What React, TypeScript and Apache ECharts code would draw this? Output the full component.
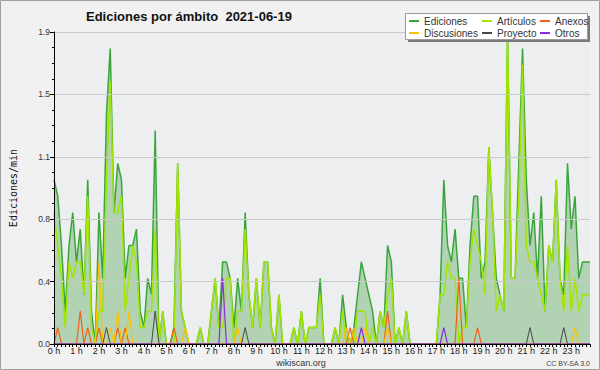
import React, { useEffect, useRef } from 'react';
import * as echarts from 'echarts';

// 144 ten-minute slots, 0 h .. 23 h 50
const hourTicks = ['0 h','1 h','2 h','3 h','4 h','5 h','6 h','7 h','8 h','9 h','10 h','11 h','12 h','13 h','14 h','15 h','16 h','17 h','18 h','19 h','20 h','21 h','22 h','23 h'];

const ediciones = [
  1.0,0.9,0.6,0.2,0.6,0.8,0.5,0.7,0.3,1.0,0.2,0.0,
  0.8,0.4,1.4,1.8,0.8,1.1,1.0,0.4,0.6,0.6,0.7,0.2,
  0.1,0.4,0.3,1.3,0.0,0.2,0.0,0.0,0.1,1.1,0.2,0.1,
  0.0,0.0,0.0,0.1,0.0,0.0,0.2,0.4,0.1,0.5,0.5,0.4,
  0.1,0.4,0.2,0.8,0.3,0.1,0.4,0.1,0.5,0.5,0.1,0.0,
  0.3,0.0,0.0,0.0,0.1,0.0,0.2,0.0,0.1,0.1,0.1,0.4,
  0.0,0.0,0.0,0.1,0.0,0.3,0.1,0.0,0.1,0.3,0.5,0.4,
  0.3,0.2,0.0,0.2,0.1,0.6,0.5,0.0,0.1,0.0,0.2,0.0,
  0.0,0.0,0.0,0.0,0.0,0.0,0.0,0.3,1.0,0.6,0.5,0.7,
  0.4,0.4,0.1,0.6,0.9,0.9,0.4,0.5,1.2,0.8,0.4,0.3,
  0.2,1.9,0.4,0.4,1.1,1.8,1.0,0.6,0.8,0.4,0.9,0.2,
  0.6,0.5,1.0,0.4,0.3,1.1,0.7,0.9,0.4,0.5,0.5,0.5,
];

const articulos = [
  0.8,0.6,0.4,0.1,0.5,0.4,0.5,0.5,0.3,0.9,0.1,0.0,
  0.2,0.2,1.0,1.6,0.8,0.8,0.9,0.2,0.4,0.6,0.5,0.1,
  0.1,0.2,0.2,0.7,0.0,0.2,0.0,0.0,0.0,1.1,0.2,0.1,
  0.0,0.0,0.0,0.1,0.0,0.0,0.2,0.4,0.1,0.1,0.4,0.4,
  0.0,0.2,0.2,0.7,0.3,0.1,0.4,0.1,0.5,0.5,0.1,0.0,
  0.3,0.0,0.0,0.0,0.1,0.0,0.2,0.0,0.1,0.1,0.1,0.3,
  0.0,0.0,0.0,0.1,0.0,0.2,0.0,0.0,0.0,0.2,0.2,0.2,
  0.0,0.1,0.0,0.2,0.1,0.3,0.4,0.0,0.1,0.0,0.2,0.0,
  0.0,0.0,0.0,0.0,0.0,0.0,0.0,0.3,0.3,0.5,0.4,0.4,
  0.0,0.1,0.1,0.5,0.7,0.6,0.5,0.3,1.2,0.8,0.2,0.3,
  0.2,1.9,0.4,0.4,0.9,1.7,0.6,0.5,0.5,0.4,0.3,0.2,
  0.6,0.5,1.0,0.4,0.2,0.6,0.2,0.4,0.2,0.3,0.3,0.3,
];

// sparse series: [slot, value]
const anexos: [number, number][] = [[1,0.1],[7,0.2],[9,0.1],[12,0.1],[17,0.1],[19,0.1],[32,0.1],[79,0.1],[89,0.2],[108,0.4],[113,0.1]];
const discusiones: [number, number][] = [[12,0.5],[15,0.1],[17,0.2],[20,0.2],[35,0.1],[49,0.1],[78,0.1],[80,0.1],[83,0.1],[89,0.1],[139,0.1]];
const proyecto: [number, number][] = [[14,0.1],[27,0.2],[51,0.1],[127,0.1],[136,0.1]];
const otros: [number, number][] = [[45,0.4],[82,0.1],[104,0.1]];

const SLOTS = ediciones.length;

function dense(arr: number[]) {
  return arr.map((v, i) => [i, v]);
}
function fromSparse(list: [number, number][]) {
  const out: number[] = new Array(SLOTS).fill(0);
  list.forEach(([i, v]) => { out[i] = v; });
  return dense(out);
}

const SANS = "'Liberation Sans', Arial, sans-serif";

export default function App() {
  const ref = useRef<HTMLDivElement>(null);
  useEffect(() => {
    if (!ref.current) return;
    const chart = echarts.init(ref.current, undefined, { renderer: 'svg' });
    const lineSeries = (name: string, data: any, color: string, width: number, extra: any = {}) => ({
      name, type: 'line', data, symbol: 'none', showSymbol: false,
      lineStyle: { color, width }, itemStyle: { color }, z: 2, ...extra,
    });
    const legendBase = {
      orient: 'vertical', top: 15, padding: 0, itemGap: 0, itemWidth: 10, itemHeight: 2,
      icon: 'rect', selectedMode: false, z: 8,
      textStyle: { fontFamily: SANS, fontSize: 10, color: '#333', lineHeight: 12 },
    };
    chart.setOption({
      animation: false,
      backgroundColor: '#f1f1f1',
      title: {
        text: 'Ediciones por ámbito  2021-06-19',
        left: 86, top: 10, padding: 0,
        textStyle: { fontFamily: SANS, fontSize: 13, fontWeight: 'bold', color: '#111' },
      },
      legend: [
        { ...legendBase, left: 409, data: ['Ediciones', 'Discusiones'] },
        { ...legendBase, left: 482, data: ['Artículos', 'Proyecto'] },
        { ...legendBase, left: 540, data: ['Anexos', 'Otros'] },
      ],
      grid: { left: 46, right: 10, top: 32, bottom: 26, show: true, backgroundColor: '#eceef0', borderWidth: 0 },
      xAxis: {
        type: 'value', min: 0, max: SLOTS - 1, interval: 1, z: 3,
        axisLine: { show: true, lineStyle: { color: '#000', width: 1 } },
        axisTick: { show: true, length: 3, lineStyle: { color: '#000' } },
        splitLine: { show: false },
        axisLabel: {
          margin: 2, fontFamily: SANS, fontSize: 9, color: '#222',
          formatter: (v: number) => (v % 6 === 0 ? hourTicks[v / 6] : ''),
        },
      },
      yAxis: {
        type: 'value', min: 0, max: 1.9, interval: 0.38, z: 3,
        name: 'Ediciones/min', nameLocation: 'middle', nameGap: 36,
        nameTextStyle: { fontFamily: "'DejaVu Sans Mono', monospace", fontSize: 10, color: '#111' },
        axisLine: { show: true, lineStyle: { color: '#000', width: 1 } },
        axisTick: { show: true, length: 4, lineStyle: { color: '#000' } },
        minorTick: { show: true, splitNumber: 4, length: 2, lineStyle: { color: '#000' } },
        splitLine: { show: true, lineStyle: { color: '#c9c9c9', width: 1 } },
        axisLabel: {
          margin: 4, fontFamily: SANS, fontSize: 8.5, color: '#333',
          formatter: (v: number) => v.toFixed(1),
        },
      },
      graphic: [
        { type: 'rect', z: 6, shape: { x: 408, y: 16, width: 182, height: 26 }, style: { fill: '#7a7a7a' } },
        { type: 'rect', z: 7, shape: { x: 405.5, y: 13.5, width: 182, height: 26 }, style: { fill: '#ffffff', stroke: '#9a9a9a', lineWidth: 1 } },
        { type: 'text', z: 7, x: 301, y: 363, style: { text: 'wikiscan.org', fontFamily: SANS, fontSize: 9, fill: '#333', align: 'center', verticalAlign: 'middle' } },
        { type: 'text', z: 7, x: 590, y: 363, style: { text: 'CC BY-SA 3.0', fontFamily: SANS, fontSize: 7, fill: '#444', align: 'right', verticalAlign: 'middle' } },
        { type: 'rect', z: 9, shape: { x: 0.5, y: 0.5, width: 599, height: 369 }, style: { fill: 'none', stroke: '#a0a0a0', lineWidth: 1 } },
      ],
      series: [
        lineSeries('Ediciones', dense(ediciones), '#3aa63a', 1.5, { areaStyle: { color: 'rgba(70,160,70,0.5)' } }),
        lineSeries('Artículos', dense(articulos), '#a2e600', 1.5),
        lineSeries('Anexos', fromSparse(anexos), '#f0601e', 1.2),
        lineSeries('Discusiones', fromSparse(discusiones), '#ffc000', 1.2),
        lineSeries('Proyecto', fromSparse(proyecto), '#484848', 1),
        lineSeries('Otros', fromSparse(otros), '#8a2be0', 1.2),
      ],
    });
    return () => chart.dispose();
  }, []);
  return <div ref={ref} style={{ position: 'fixed', left: 0, top: 0, width: 600, height: 370 }} />;
}
